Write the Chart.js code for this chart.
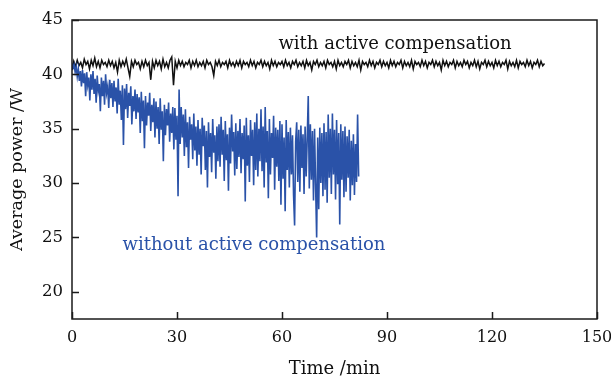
<!DOCTYPE html>
<html>
<head>
<meta charset="utf-8">
<script src="https://cdn.jsdelivr.net/npm/chart.js@4.4.1/dist/chart.umd.min.js"></script>
<style>
  html, body { margin: 0; padding: 0; background: #fff; }
  #wrap { width: 611px; height: 384px; }
</style>
</head>
<body>
<div id="wrap"><canvas id="grafica" width="611" height="384"></canvas></div>
<script>
// sample interval of each record (min)
const pasoConCompensacion = 0.5;
const pasoSinCompensacion = 0.3;

// average power (W), with active compensation, 0 - 135 min
const potenciaCon = [
  40.4, 41.2, 40.7, 41.3, 40.8, 41.1, 40.6, 41.4, 40.9, 41.2, 40.5, 41.3, 40.8, 41.5, 40.7, 41.2, 40.6, 41.3, 40.9, 41.1,
  40.7, 41.3, 40.8, 41.2, 40.6, 41.1, 40.2, 41.3, 40.7, 41.2, 40.8, 41.4, 40.6, 39.8, 41.2, 40.7, 41.3, 40.9, 41.1, 40.5,
  41.2, 40.7, 41.3, 40.8, 41.1, 39.5, 41.2, 40.6, 41.3, 40.8, 41.2, 40.5, 41.4, 40.7, 41.1, 40.6, 41.3, 41.6, 39.0, 41.2,
  40.6, 41.3, 40.8, 41.2, 40.7, 41.1, 40.9, 41.3, 40.6, 41.2, 40.8, 41.3, 40.7, 41.1, 40.8, 41.2, 40.6, 41.3, 40.9, 41.1,
  40.7, 39.9, 41.2, 40.8, 41.3, 40.7, 41.1, 40.9, 41.2, 40.6, 41.3, 40.8, 41.1, 40.7, 41.2, 40.8, 41.3, 40.6, 41.2, 40.9,
  41.1, 40.7, 41.3, 40.8, 41.2, 40.6, 41.1, 40.9, 41.3, 40.7, 41.2, 40.8, 41.1, 40.5, 41.3, 40.8, 41.2, 40.7, 41.1, 40.9,
  41.2, 40.7, 41.3, 40.8, 41.1, 40.6, 41.2, 40.9, 41.3, 40.7, 41.1, 40.8, 41.2, 40.6, 41.3, 40.8, 41.1, 40.4, 41.2, 40.9,
  41.3, 40.7, 41.1, 40.8, 41.2, 40.6, 41.3, 40.9, 41.1, 40.7, 41.2, 40.5, 41.3, 40.8, 41.1, 40.7, 41.2, 40.9, 41.3, 40.6,
  41.2, 40.8, 41.1, 40.7, 41.3, 40.4, 41.2, 40.9, 41.1, 40.7, 41.3, 40.8, 41.2, 40.6, 41.1, 40.9, 41.3, 40.7, 41.2, 40.8,
  41.1, 40.6, 41.3, 40.8, 41.2, 40.7, 41.1, 40.9, 41.3, 40.6, 41.2, 40.8, 41.1, 40.7, 41.3, 40.5, 41.2, 40.9, 41.1, 40.7,
  41.3, 40.8, 41.2, 40.6, 41.1, 40.9, 41.3, 40.7, 41.2, 40.8, 41.1, 40.4, 41.3, 40.8, 41.2, 40.7, 41.1, 40.9, 41.3, 40.6,
  41.2, 40.8, 41.1, 40.7, 41.3, 40.9, 41.2, 40.6, 41.1, 40.8, 41.3, 40.7, 41.2, 40.5, 41.1, 40.9, 41.3, 40.7, 41.2, 40.8,
  41.1, 40.6, 41.3, 40.8, 41.2, 40.7, 41.1, 40.9, 41.3, 40.5, 41.2, 40.8, 41.1, 40.7, 41.3, 40.6, 41.2, 40.9, 41.1, 40.7,
  41.3, 40.8, 41.2, 40.6, 41.1, 40.9, 41.3, 40.7, 41.2, 40.8, 41.0
];

// average power (W), without active compensation, 0 - 81.9 min
const potenciaSin = [
  41.0, 40.6, 40.9, 40.2, 40.7, 39.8, 40.5, 39.4, 40.3, 38.9, 40.4, 39.2, 40.1, 38.0, 40.2, 39.0, 39.7, 37.6, 40.0, 38.6,
  40.3, 38.2, 39.6, 37.4, 39.9, 38.5, 39.1, 36.6, 39.7, 38.0, 39.4, 37.2, 40.0, 38.3, 38.9, 36.9, 39.5, 37.8, 39.2, 37.0,
  39.4, 37.5, 38.8, 36.4, 39.6, 37.2, 38.5, 35.8, 39.0, 33.5, 38.7, 36.8, 39.1, 36.0, 38.3, 37.1, 38.9, 35.4, 38.0, 36.6,
  38.6, 35.9, 38.2, 36.5, 37.9, 34.6, 38.4, 35.7, 37.6, 33.2, 38.0, 35.3, 37.4, 36.2, 38.3, 34.8, 37.2, 35.6, 37.8, 34.2,
  37.5, 35.0, 37.0, 33.6, 37.8, 34.9, 36.6, 32.0, 37.2, 34.4, 36.8, 35.3, 37.4, 33.8, 36.4, 34.6, 37.0, 33.1, 36.9, 34.0,
  36.2, 28.8, 38.6, 33.6, 37.0, 34.2, 36.3, 32.5, 36.8, 33.3, 35.6, 31.4, 36.1, 34.0, 35.4, 32.2, 36.4, 33.0, 35.2, 31.6,
  35.8, 32.6, 35.0, 30.8, 36.0, 33.4, 35.3, 31.2, 34.8, 29.6, 35.6, 32.4, 34.6, 31.0, 35.9, 32.8, 34.4, 30.4, 35.2, 32.0,
  35.4, 31.5, 36.1, 32.6, 34.9, 30.2, 35.7, 32.1, 34.5, 29.3, 35.1, 31.8, 36.3, 32.9, 34.7, 30.7, 35.5, 31.3, 34.8, 32.4,
  35.9, 30.9, 34.6, 32.2, 35.3, 28.3, 36.0, 31.6, 34.4, 30.1, 35.8, 32.5, 34.9, 29.8, 35.6, 31.2, 36.4, 30.6, 35.0, 32.0,
  36.8, 31.1, 35.2, 29.6, 37.0, 31.9, 34.8, 28.6, 35.9, 30.8, 34.6, 32.3, 36.2, 29.4, 35.1, 31.5, 34.9, 30.2, 35.7, 28.0,
  35.4, 30.4, 34.2, 27.4, 35.8, 31.2, 34.7, 29.6, 35.1, 30.8, 34.4, 28.9, 26.1, 33.8, 35.6, 30.1, 34.9, 29.2, 35.3, 31.4,
  34.5, 29.0, 35.2, 30.6, 34.0, 38.0, 29.5, 35.4, 30.3, 34.8, 28.4, 35.0, 29.8, 25.0, 34.2, 27.6, 35.1, 30.0, 34.6, 28.8,
  35.5, 29.4, 34.7, 28.2, 36.3, 30.5, 35.0, 29.0, 36.4, 30.8, 34.9, 28.5, 35.8, 29.9, 34.6, 26.2, 35.4, 30.3, 34.8, 28.7,
  35.2, 29.2, 34.3, 30.5, 34.9, 28.4, 33.9, 29.8, 34.5, 28.9, 33.6, 30.1, 36.3, 30.6
];

const ticksX = [0, 30, 60, 90, 120, 150];
const ticksY = [20, 25, 30, 35, 40, 45];
const etiquetas = ["with active compensation", "without active compensation"];

const fuente = "'DejaVu Serif', serif";

function aPuntos(valores, paso) {
  return valores.map((v, i) => ({ x: Math.round(i * paso * 10) / 10, y: v }));
}

// Marco, marcas hacia dentro y textos
const marcoPlugin = {
  id: "marco",
  afterDatasetsDraw(chart) {
    const { ctx, chartArea: a, scales } = chart;
    ctx.save();
    ctx.strokeStyle = "#1a1a1a";
    ctx.lineWidth = 1.5;
    ctx.strokeRect(a.left, a.top, a.right - a.left, a.bottom - a.top);
    ctx.beginPath();
    ticksX.forEach((v) => {
      const px = Math.round(scales.x.getPixelForValue(v)) + 0.5;
      ctx.moveTo(px, a.bottom);
      ctx.lineTo(px, a.bottom - 7);
    });
    ticksY.forEach((v) => {
      const py = Math.round(scales.y.getPixelForValue(v)) + 0.5;
      ctx.moveTo(a.left, py);
      ctx.lineTo(a.left + 7, py);
    });
    ctx.stroke();

    ctx.font = "18px " + fuente;
    ctx.textAlign = "center";
    ctx.textBaseline = "middle";
    ctx.fillStyle = "#111";
    ctx.fillText(etiquetas[0], scales.x.getPixelForValue(92.3), scales.y.getPixelForValue(42.8));
    ctx.fillStyle = "#2a52a8";
    ctx.fillText(etiquetas[1], scales.x.getPixelForValue(52), scales.y.getPixelForValue(24.3));
    ctx.restore();
  },
};

const ctx = document.getElementById("grafica").getContext("2d");

new Chart(ctx, {
  type: "line",
  data: {
    datasets: [
      {
        label: etiquetas[1],
        data: aPuntos(potenciaSin, pasoSinCompensacion),
        borderColor: "#2a52a8",
        borderWidth: 1.6,
        pointRadius: 0,
        tension: 0,
      },
      {
        label: etiquetas[0],
        data: aPuntos(potenciaCon, pasoConCompensacion),
        borderColor: "#111111",
        borderWidth: 1.5,
        pointRadius: 0,
        tension: 0,
      },
    ],
  },
  options: {
    responsive: false,
    animation: false,
    layout: { padding: { top: 20, right: 14, left: 0, bottom: 0 } },
    plugins: {
      legend: { display: false },
      tooltip: { enabled: false },
    },
    scales: {
      x: {
        type: "linear",
        min: 0,
        max: 150,
        afterBuildTicks: (scale) => {
          scale.ticks = ticksX.map((v) => ({ value: v }));
        },
        afterFit: (scale) => {
          scale.height = 65;
          scale.paddingLeft = 0;
          scale.paddingRight = 0;
        },
        grid: { display: false, drawTicks: false },
        border: { display: false },
        ticks: {
          color: "#111",
          padding: 9,
          maxRotation: 0,
          font: { family: fuente, size: 16 },
        },
        title: {
          display: true,
          text: "Time /min",
          color: "#111",
          padding: { top: 0, bottom: 4 },
          font: { family: fuente, size: 18 },
        },
      },
      y: {
        type: "linear",
        min: 17.5,
        max: 45,
        afterBuildTicks: (scale) => {
          scale.ticks = ticksY.map((v) => ({ value: v }));
        },
        afterFit: (scale) => {
          scale.width = 72;
          scale.paddingTop = 0;
          scale.paddingBottom = 0;
        },
        grid: { display: false, drawTicks: false },
        border: { display: false },
        ticks: {
          color: "#111",
          padding: 9,
          font: { family: fuente, size: 16.5 },
        },
        title: {
          display: true,
          text: "Average power /W",
          color: "#111",
          padding: { top: 7, bottom: 0 },
          font: { family: fuente, size: 17.5 },
        },
      },
    },
  },
  plugins: [marcoPlugin],
});
</script>
</body>
</html>
